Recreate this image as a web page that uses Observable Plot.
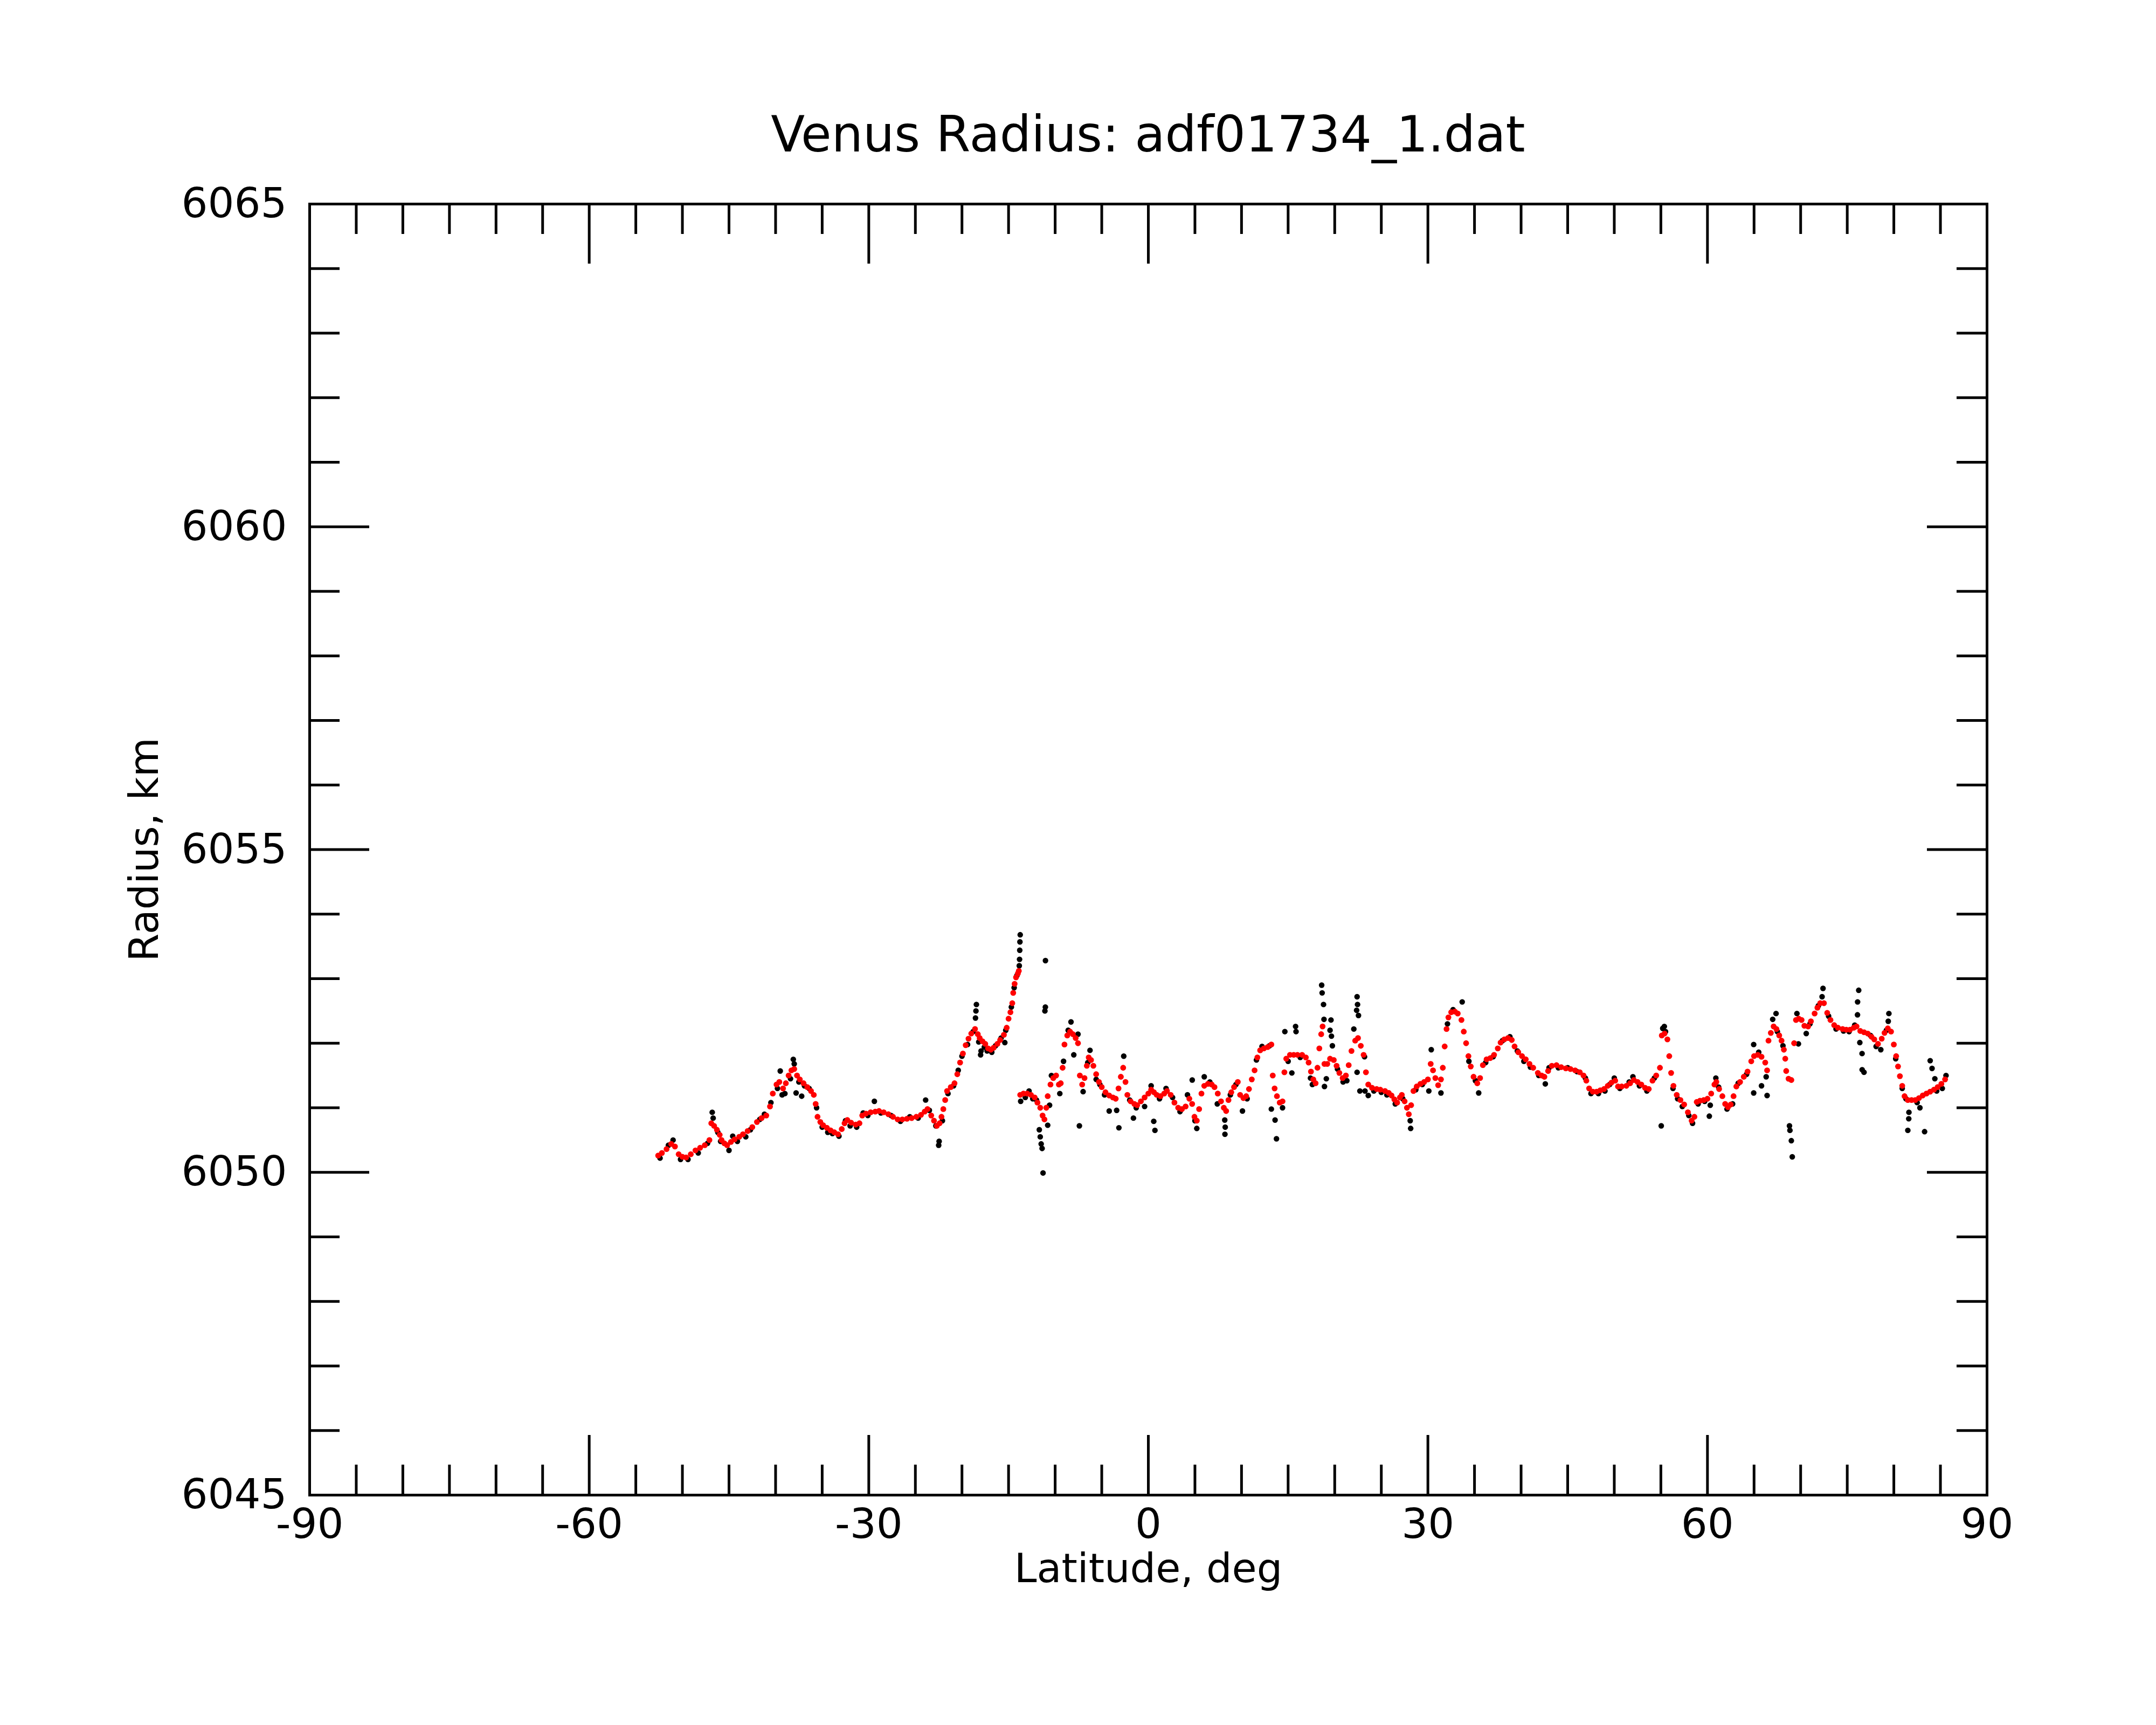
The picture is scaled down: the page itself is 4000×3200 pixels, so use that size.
<!DOCTYPE html>
<html>
<head>
<meta charset="utf-8">
<script src="https://cdn.jsdelivr.net/npm/d3@7"></script>
<script src="https://cdn.jsdelivr.net/npm/@observablehq/plot@0.6"></script>
<style>
  html, body { margin: 0; padding: 0; background: #fff; }
  #wrap { width: 4000px; }
  #title { height: 300px; box-sizing: border-box; padding-top: 204px; padding-left: 260px;
    font-family: "DejaVu Sans", sans-serif; font-size: 92px; line-height: 92px; text-align: center; color: #000; white-space: nowrap; }
</style>
</head>
<body>
<div id="wrap">
  <div id="title">Venus Radius: adf01734_1.dat</div>
  <div id="chart"></div>
</div>
<script>
const titleText = "Venus Radius: adf01734_1.dat";
const xLabel = "Latitude, deg";
const yLabel = "Radius, km";

const xTickLabels = [-90, -60, -30, 0, 30, 60, 90];
const xMajorTicks = [-60, -30, 0, 30, 60];
const xMinorTicks = [-85,-80,-75,-70,-65,-55,-50,-45,-40,-35,-25,-20,-15,-10,-5,5,10,15,20,25,35,40,45,50,55,65,70,75,80,85];
const yTickLabels = [6045, 6050, 6055, 6060, 6065];
const yMajorTicks = [6050, 6055, 6060];
const yMinorTicks = [6046,6047,6048,6049,6051,6052,6053,6054,6056,6057,6058,6059,6061,6062,6063,6064];

// smoothed radius (red)
const redLat = [
-52.6,-52.2,-51.7,-51.2,-50.8,-50.4,-50.0,-49.6,-49.1,-48.6,-48.1,-47.6,-47.1,-46.9,-46.6,-46.3,-46.0,-45.8,-45.5,-45.2,
-44.8,-44.4,-43.9,-43.5,-43.0,-42.5,-42.0,-41.5,-41.0,-40.6,-40.3,-39.9,-39.6,-39.2,-38.9,-38.6,-38.3,-38.0,-37.7,-37.4,
-37.0,-36.6,-36.2,-35.9,-35.7,-35.5,-35.2,-34.9,-34.5,-34.1,-33.7,-33.3,-32.9,-32.6,-32.3,-31.9,-31.4,-31.0,-30.7,-30.3,
-29.8,-29.3,-28.9,-28.4,-27.9,-27.4,-26.9,-26.4,-25.9,-25.4,-24.9,-24.4,-24.0,-23.7,-23.3,-23.0,-22.7,-22.4,-22.2,-22.0,
-21.8,-21.6,-21.2,-20.8,-20.5,-20.2,-19.9,-19.6,-19.3,-19.0,-18.6,-18.3,-18.1,-17.8,-17.5,-17.2,-16.9,-16.6,-16.2,-15.9,
-15.5,-15.2,-15.0,-14.8,-14.6,-14.5,-14.35,-14.2,-14.0,-13.9,
-13.75,-13.4,-13.0,-12.6,-12.2,-11.9,-11.6,-11.35,-11.15,-10.95,-10.8,-10.5,-10.2,-9.9,-9.6,-9.4,-9.2,-9.0,-8.7,-8.4,
-8.1,-7.8,-7.55,-7.35,-7.1,-6.85,-6.6,-6.4,-6.15,-5.9,-5.6,-5.3,-5.0,-4.6,-4.2,-3.8,-3.5,-3.2,-2.95,-2.7,
-2.45,-2.25,-1.9,-1.5,-1.2,-0.8,-0.4,0.0,0.3,0.6,0.9,1.3,1.7,2.0,2.4,2.8,3.2,3.6,4.0,4.4,
4.7,4.95,5.2,5.45,5.7,6.0,6.4,6.8,7.1,7.45,7.8,8.1,8.35,8.6,8.9,9.2,9.6,9.85,10.2,10.5,
10.8,11.1,11.4,11.7,12.0,12.4,12.8,13.2,13.35,13.55,13.8,14.1,14.4,14.6,14.8,15.2,15.6,16.0,16.5,16.9,
17.2,17.45,17.7,17.95,18.15,18.35,18.55,18.7,18.9,19.2,19.5,19.9,20.2,20.5,20.85,21.2,21.5,21.8,22.2,22.5,
22.8,23.1,23.35,23.6,24.0,24.5,24.9,25.4,25.8,26.1,26.4,26.7,27.0,27.2,27.5,27.75,27.95,28.2,28.45,28.8,
29.2,29.6,30.0,30.3,30.55,30.8,31.1,31.4,31.6,31.8,32.0,32.2,32.5,32.9,33.2,33.6,33.85,34.1,34.35,34.6,
34.9,35.3,35.6,35.9,36.3,36.7,37.1,37.5,37.8,38.2,38.6,39.0,39.3,39.7,40.1,40.5,40.9,41.3,41.8,42.2,
42.5,42.9,43.3,43.8,44.3,44.8,45.3,45.8,46.3,46.7,47.0,47.3,47.7,48.1,48.5,48.9,49.3,49.7,50.1,50.4,
50.8,51.3,51.7,52.1,52.5,52.9,53.3,53.7,54.1,54.5,54.9,55.1,55.4,55.7,55.9,56.1,56.35,56.7,57.1,57.5,
57.9,58.3,58.6,58.85,59.2,59.6,60.0,60.4,60.75,60.95,61.25,61.6,61.9,62.2,62.5,62.8,63.1,63.5,63.9,64.3,
64.7,65.0,65.4,65.8,66.2,66.4,66.55,66.8,67.1,67.4,67.7,67.95,68.2,68.35,68.45,68.7,69.0,69.3,69.5,69.8,
70.1,70.4,70.8,71.1,71.5,71.8,72.1,72.5,72.85,73.2,73.6,74.0,74.5,74.9,75.3,75.7,76.0,76.4,76.8,77.2,
77.6,77.9,78.3,78.7,79.0,79.35,79.7,80.0,80.25,80.45,80.65,80.9,81.15,81.5,81.9,82.3,82.7,83.1,83.5,83.9,
84.3,84.7,85.1,85.5
];
const redRadius = [
6050.26,6050.30,6050.36,6050.44,6050.40,6050.28,6050.24,6050.23,6050.28,6050.34,6050.38,6050.42,6050.50,6050.76,6050.72,6050.66,6050.58,6050.50,6050.45,6050.42,
6050.47,6050.51,6050.55,6050.59,6050.64,6050.70,6050.78,6050.84,6050.88,6051.02,6051.22,6051.36,6051.40,6051.30,6051.38,6051.50,6051.58,6051.60,6051.50,6051.44,
6051.38,6051.32,6051.26,6051.20,6051.06,6050.86,6050.78,6050.73,6050.69,6050.65,6050.62,6050.59,6050.67,6050.76,6050.81,6050.77,6050.74,6050.76,6050.88,6050.91,
6050.93,6050.94,6050.95,6050.93,6050.90,6050.86,6050.82,6050.82,6050.83,6050.84,6050.86,6050.89,6050.94,6050.98,6050.88,6050.80,6050.72,6050.76,6050.86,6050.98,
6051.12,6051.26,6051.32,6051.38,6051.52,6051.70,6051.84,6051.97,6052.07,6052.15,6052.22,6052.14,6052.08,6052.03,6051.99,6051.92,6051.90,6051.93,6051.99,6052.05,
6052.13,6052.24,6052.38,6052.48,6052.62,6052.78,6052.92,6053.02,6053.08,6053.12,
6051.20,6051.22,6051.22,6051.20,6051.16,6051.08,6051.00,6050.88,6050.82,6051.00,6051.18,6051.36,6051.46,6051.50,6051.36,6051.38,6051.62,6051.98,6052.12,6052.18,
6052.14,6052.08,6052.00,6051.50,6051.36,6051.46,6051.65,6051.78,6051.74,6051.65,6051.52,6051.40,6051.32,6051.24,6051.19,6051.16,6051.14,6051.30,6051.48,6051.62,
6051.40,6051.20,6051.10,6051.06,6051.04,6051.10,6051.16,6051.22,6051.28,6051.24,6051.20,6051.18,6051.22,6051.26,6051.20,6051.08,6051.00,6050.98,6051.02,6051.14,
6051.06,6050.86,6050.80,6050.98,6051.22,6051.34,6051.37,6051.36,6051.32,6051.22,6051.10,6051.00,6050.95,6051.12,6051.24,6051.32,6051.40,6051.20,6051.15,6051.18,
6051.29,6051.44,6051.58,6051.78,6051.89,6051.92,6051.94,6051.98,6051.50,6051.30,6051.18,6051.08,6051.10,6051.55,6051.76,6051.82,6051.82,6051.82,6051.82,6051.78,
6051.70,6051.56,6051.44,6051.38,6051.62,6051.92,6052.14,6052.26,6051.68,6051.68,6051.76,6051.74,6051.65,6051.54,6051.46,6051.50,6051.66,6051.88,6052.04,6052.08,
6051.96,6051.82,6051.55,6051.36,6051.31,6051.29,6051.28,6051.26,6051.23,6051.19,6051.13,6051.08,6051.16,6051.20,6051.10,6051.00,6050.90,6051.04,6051.26,6051.33,
6051.37,6051.40,6051.44,6051.68,6051.58,6051.46,6051.35,6051.44,6051.62,6051.95,6052.22,6052.40,6052.48,6052.49,6052.46,6052.36,6052.18,6052.00,6051.80,6051.64,
6051.48,6051.38,6051.46,6051.66,6051.75,6051.77,6051.82,6051.92,6052.01,6052.06,6052.08,6052.05,6051.95,6051.86,6051.80,6051.75,6051.68,6051.62,6051.54,6051.50,
6051.48,6051.57,6051.65,6051.66,6051.63,6051.61,6051.60,6051.58,6051.55,6051.50,6051.42,6051.30,6051.25,6051.25,6051.27,6051.29,6051.34,6051.39,6051.42,6051.33,
6051.33,6051.34,6051.38,6051.43,6051.40,6051.36,6051.31,6051.29,6051.42,6051.50,6051.62,6052.12,6052.15,6052.06,6051.80,6051.54,6051.34,6051.20,6051.12,6051.05,
6050.93,6050.80,6050.86,6051.09,6051.11,6051.12,6051.14,6051.22,6051.36,6051.40,6051.29,6051.18,6051.06,6051.01,6051.05,6051.18,6051.33,6051.40,6051.48,6051.56,
6051.72,6051.80,6051.82,6051.79,6051.70,6051.58,6052.04,6052.16,6052.26,6052.22,6052.12,6052.04,6051.90,6051.76,6051.57,6051.45,6051.43,6052.00,6052.36,6052.38,
6052.36,6052.27,6052.26,6052.34,6052.46,6052.55,6052.62,6052.62,6052.47,6052.36,6052.28,6052.24,6052.22,6052.21,6052.21,6052.24,6052.26,6052.19,6052.17,6052.15,
6052.10,6052.06,6051.99,6052.07,6052.16,6052.23,6052.18,6051.98,6051.80,6051.64,6051.49,6051.34,6051.18,6051.12,6051.12,6051.12,6051.15,6051.19,6051.22,6051.25,
6051.28,6051.32,6051.37,6051.44
];

// raw radius (black)
const blackLat = [
-52.4,-51.5,-51.0,-50.2,-49.4,-48.3,-47.3,-46.8,-46.7,-46.2,-45.9,-45.0,-44.6,-44.1,-43.2,-42.7,-41.7,-41.2,-40.5,-39.8,
-39.5,-39.3,-39.0,-38.4,-38.1,-38.0,-37.8,-37.5,-37.2,-36.9,-36.4,-35.6,-35.0,-34.4,-33.9,-33.2,-32.5,-32.0,-31.3,-30.6,
-30.1,-29.4,-28.7,-27.6,-26.6,-25.6,-24.7,-23.9,-23.5,-22.8,-22.5,-22.45,-22.1,-21.5,-20.9,-20.4,-20.0,-19.4,-18.8,-18.45,
-18.5,-18.55,-18.2,-18.0,-17.95,-17.6,-17.3,-16.8,-16.4,-15.8,-15.4,-15.3,-14.7,-14.4,-14.1,-13.85,-13.82,-13.8,-13.78,-13.75,
-13.7,-13.2,-12.8,-12.4,-12.0,-11.7,-11.6,-11.5,-11.4,-11.3,-11.1,-11.05,-11.04,-10.8,-10.6,-10.4,-9.5,-9.1,-8.6,-8.3,
-8.0,-7.55,-7.4,-7.0,-6.5,-6.26,-5.6,-5.2,-4.7,-4.2,-3.4,-3.16,-2.64,-2.0,-1.6,-1.3,-0.4,0.3,0.58,0.71,
1.2,1.9,2.6,3.4,4.2,4.71,5.2,5.0,6.0,6.6,7.4,8.2,8.22,8.25,8.8,9.4,10.1,10.6,11.6,12.2,
13.0,13.2,13.6,13.75,14.4,14.65,15.0,15.4,15.8,15.85,16.3,17.4,17.6,18.6,18.65,18.8,18.85,18.9,19.1,19.6,
19.5,19.65,19.75,20.3,20.9,21.3,22.05,22.4,22.45,22.35,22.55,22.4,22.7,23.2,23.25,23.6,24.2,25.0,25.6,26.5,
27.3,28.1,28.15,28.7,29.4,30.1,30.36,31.4,32.1,32.7,33.68,34.4,35.1,35.45,36.2,37.0,38.0,38.8,39.6,40.3,
41.0,41.9,42.6,43.0,44.0,45.0,46.0,46.9,47.5,48.3,49.0,49.5,50.0,50.6,51.6,52.0,52.7,53.5,54.3,55.04,
55.2,55.37,55.5,56.3,56.8,57.3,58.0,58.4,59.0,59.7,60.2,60.3,60.9,61.2,62.1,62.7,63.3,64.2,64.96,64.96,
65.5,65.8,66.3,66.4,67.0,67.36,67.5,68.1,68.8,68.85,69.0,69.1,69.6,69.76,70.6,71.0,71.9,72.3,72.4,73.0,
73.8,74.6,75.2,75.8,76.23,76.11,76.1,76.35,76.59,76.6,76.8,77.5,78.1,78.6,79.2,79.47,79.4,80.2,80.9,81.3,
81.5,81.6,81.62,82.5,82.8,83.3,83.9,84.1,84.4,84.6,85.2,85.6
];
const blackRadius = [
6050.22,6050.42,6050.50,6050.20,6050.20,6050.30,6050.45,6050.93,6050.84,6050.62,6050.48,6050.34,6050.56,6050.48,6050.55,6050.66,6050.82,6050.90,6051.08,6051.30,
6051.57,6051.20,6051.22,6051.45,6051.75,6051.68,6051.23,6051.40,6051.18,6051.34,6051.30,6051.00,6050.70,6050.62,6050.60,6050.56,6050.80,6050.72,6050.70,6050.92,
6050.88,6051.10,6050.92,6050.88,6050.79,6050.86,6050.84,6051.12,6050.96,6050.72,6050.42,6050.48,6050.80,6051.22,6051.34,6051.58,6051.80,6051.98,6052.18,6052.60,
6052.50,6052.39,6052.02,6051.82,6051.88,6051.94,6051.88,6051.86,6051.96,6052.08,6052.01,6052.20,6052.56,6052.86,6053.05,6053.20,6053.30,6053.44,6053.57,6053.68,
6051.10,6051.16,6051.26,6051.14,6051.12,6050.66,6050.55,6050.44,6050.37,6049.99,6052.50,6052.56,6053.28,6050.73,6051.04,6051.50,6051.22,6051.72,6052.20,6052.33,
6051.82,6052.14,6050.72,6051.25,6051.70,6051.89,6051.44,6051.36,6051.20,6050.95,6050.96,6050.69,6051.80,6051.12,6050.84,6051.00,6051.02,6051.34,6050.79,6050.65,
6051.14,6051.30,6051.16,6050.94,6051.20,6051.43,6050.68,6050.80,6051.48,6051.40,6051.06,6050.81,6050.59,6050.70,6051.20,6051.36,6050.95,6051.14,6051.74,6051.95,
6051.96,6050.98,6050.81,6050.52,6051.00,6052.18,6051.72,6051.54,6052.26,6052.18,6051.78,6051.46,6051.36,6052.90,6052.78,6052.60,6052.37,6051.33,6051.45,6052.36,
6052.20,6052.11,6051.96,6051.60,6051.40,6051.42,6052.22,6052.72,6052.60,6052.51,6052.43,6051.55,6051.26,6051.79,6051.26,6051.19,6051.26,6051.24,6051.20,6051.06,
6051.14,6050.80,6050.68,6051.28,6051.36,6051.26,6051.90,6051.23,6052.30,6052.52,6052.64,6051.72,6051.42,6051.23,6051.70,6051.79,6052.04,6052.10,6051.88,6051.72,
6051.63,6051.50,6051.37,6051.62,6051.62,6051.62,6051.56,6051.46,6051.22,6051.22,6051.26,6051.36,6051.46,6051.30,6051.40,6051.48,6051.34,6051.26,6051.46,6050.72,
6052.23,6052.26,6052.18,6051.30,6051.14,6051.02,6050.88,6050.76,6051.06,6051.10,6050.87,6051.04,6051.46,6051.32,6050.98,6051.06,6051.38,6051.52,6051.98,6051.23,
6051.86,6051.34,6051.48,6051.19,6052.37,6052.46,6052.18,6051.96,6050.72,6050.65,6050.49,6050.24,6052.46,6051.99,6052.15,6052.30,6052.58,6052.72,6052.85,6052.42,
6052.22,6052.19,6052.18,6052.28,6052.82,6052.64,6052.44,6052.01,6051.84,6051.59,6051.55,6052.12,6051.95,6051.90,6052.20,6052.46,6052.34,6051.76,6051.30,6051.14,
6050.65,6050.83,6050.93,6051.08,6051.00,6050.63,6051.73,6051.61,6051.45,6051.26,6051.30,6051.50
];

const red = redLat.map((lat, i) => ({lat, radius: redRadius[i]}));
const black = blackLat.map((lat, i) => ({lat, radius: blackRadius[i]}));

const W = 4000, H = 2900;
const mT = 78, mB = 427, mL = 574, mR = 314;
const frameH = H - mT - mB, frameW = W - mL - mR;
const minorLen = 56, majorLen = 111, sw = 5, fs = 77;

const chart = Plot.plot({
  width: W,
  height: H,
  marginTop: mT, marginBottom: mB, marginLeft: mL, marginRight: mR,
  style: {fontFamily: "DejaVu Sans", background: "white", color: "black"},
  x: {domain: [-90, 90], axis: null},
  y: {domain: [6045, 6065], axis: null},
  marks: [
    Plot.dot(black, {x: "lat", y: "radius", r: 5.2, fill: "black", stroke: "none"}),
    Plot.dot(red, {x: "lat", y: "radius", r: 5.4, fill: "#ff0000", stroke: "none"}),
    // x ticks, bottom and top
    Plot.ruleX(xMinorTicks, {x: d => d, insetTop: frameH - minorLen, stroke: "black", strokeWidth: sw}),
    Plot.ruleX(xMinorTicks, {x: d => d, insetBottom: frameH - minorLen, stroke: "black", strokeWidth: sw}),
    Plot.ruleX(xMajorTicks, {x: d => d, insetTop: frameH - majorLen, stroke: "black", strokeWidth: sw}),
    Plot.ruleX(xMajorTicks, {x: d => d, insetBottom: frameH - majorLen, stroke: "black", strokeWidth: sw}),
    // y ticks, left and right
    Plot.ruleY(yMinorTicks, {y: d => d, insetRight: frameW - minorLen, stroke: "black", strokeWidth: sw}),
    Plot.ruleY(yMinorTicks, {y: d => d, insetLeft: frameW - minorLen, stroke: "black", strokeWidth: sw}),
    Plot.ruleY(yMajorTicks, {y: d => d, insetRight: frameW - majorLen, stroke: "black", strokeWidth: sw}),
    Plot.ruleY(yMajorTicks, {y: d => d, insetLeft: frameW - majorLen, stroke: "black", strokeWidth: sw}),
    Plot.frame({stroke: "black", strokeWidth: sw}),
    Plot.axisX({anchor: "bottom", ticks: xTickLabels, tickSize: 0, tickPadding: 25, fontSize: fs, tickFormat: d => String(d), label: null}),
    Plot.axisY({anchor: "left", ticks: yTickLabels, tickSize: 0, tickPadding: 42, fontSize: fs, tickFormat: d => String(d), label: null}),
    Plot.text([xLabel], {frameAnchor: "bottom", lineAnchor: "middle", textAnchor: "middle", dy: 137, fontSize: 75, text: d => d, fill: "black"}),
    Plot.text([yLabel], {frameAnchor: "left", lineAnchor: "middle", textAnchor: "middle", dx: -306, rotate: -90, fontSize: 75, text: d => d, fill: "black"})
  ]
});
document.getElementById("title").textContent = titleText;
document.getElementById("chart").appendChild(chart);
</script>
</body>
</html>
